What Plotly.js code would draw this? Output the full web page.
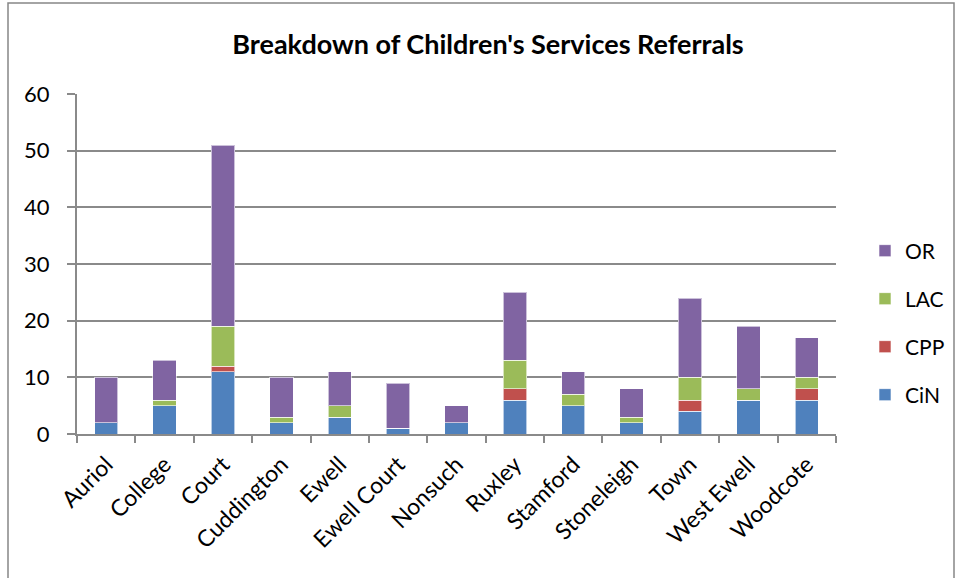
<!DOCTYPE html>
<html>
<head>
<meta charset="utf-8">
<script src="https://cdn.plot.ly/plotly-3.0.1.min.js"></script>
<style>html,body{margin:0;padding:0;background:#fff;}#chart{width:957px;height:578px;}</style>
</head>
<body>
<div id="chart"></div>
<script>
const categories = ["Auriol","College","Court","Cuddington","Ewell","Ewell Court","Nonsuch","Ruxley","Stamford","Stoneleigh","Town","West Ewell","Woodcote"];
const CiN = [2,5,11,2,3,1,2,6,5,2,4,6,6];
const CPP = [0,0,1,0,0,0,0,2,0,0,2,0,2];
const LAC = [0,1,7,1,2,0,0,5,2,1,4,2,2];
const OR  = [8,7,32,7,6,8,3,12,4,5,14,11,7];
const seriesNames = ["CiN","CPP","LAC","OR"];
const seriesColors = ["#4F81BD","#C0504D","#9BBB59","#8064A2"];
const seriesData = [CiN, CPP, LAC, OR];
const legendIds = ["legend4","legend3","legend2","legend"];

const traces = seriesData.map((d,i)=>({
  type:"bar", name:seriesNames[i], x:categories, y:d,
  marker:{color:seriesColors[i], line:{color:"rgba(255,255,255,0.6)", width:1}},
  legend:legendIds[i], showlegend:true, hoverinfo:"x+y+name"
}));

const fontFam = "Lato, 'Open Sans', sans-serif";
const W = 957, H = 578;
const L = 77, T = 94, PW = 759, PH = 340;
function py(p){ return (T+PH-p)/PH; }
function px(p){ return (p-L)/PW; }
function mkLegend(ypix){
  return {xref:"container", yref:"container", x:865/W, xanchor:"left", y:1-ypix/H, yanchor:"middle", bgcolor:"rgba(0,0,0,0)",
    font:{family:fontFam, size:21, color:"#000"}, itemwidth:30, borderwidth:0};
}

const layout = {
  width:W, height:H,
  margin:{l:L, r:W-L-PW, t:T, b:H-T-PH},
  paper_bgcolor:"#fff", plot_bgcolor:"#fff",
  showlegend:true,
  barmode:"stack", bargap:0.6,
  title:{text:"<b>Breakdown of Children's Services Referrals</b>", font:{family:fontFam, size:27, color:"#000"}, x:488/W, xref:"container", xanchor:"center", y:1 - 45/H, yanchor:"middle"},
  font:{family:fontFam, color:"#000"},
  xaxis:{type:"category", tickangle:-45, tickfont:{family:fontFam, size:23, color:"#000"},
    showline:true, linecolor:"#8a8a8a", linewidth:2, ticks:"outside", tickson:"boundaries",
    ticklen:7, tickcolor:"#8a8a8a", tickwidth:2, showgrid:false, fixedrange:true, ticklabelstandoff:6},
  yaxis:{range:[0,60], dtick:10, tickfont:{family:fontFam, size:22, color:"#000"},
    showline:true, linecolor:"#8a8a8a", linewidth:2, ticks:"outside", ticklen:8, tickcolor:"#8a8a8a", tickwidth:2,
    showgrid:true, gridcolor:"#8a8a8a", gridwidth:2, zeroline:false, fixedrange:true, ticklabelstandoff:13},
  legend: mkLegend(251),
  legend2: mkLegend(299),
  legend3: mkLegend(347),
  legend4: mkLegend(395),
  shapes:[{type:"rect", xref:"paper", yref:"paper", x0:px(8), x1:px(954), y0:py(640), y1:py(3),
    line:{color:"#868686", width:1.5}, fillcolor:"rgba(0,0,0,0)", layer:"below"}]
};
Plotly.newPlot("chart", traces, layout, {displayModeBar:false, staticPlot:true});
</script>
</body>
</html>
